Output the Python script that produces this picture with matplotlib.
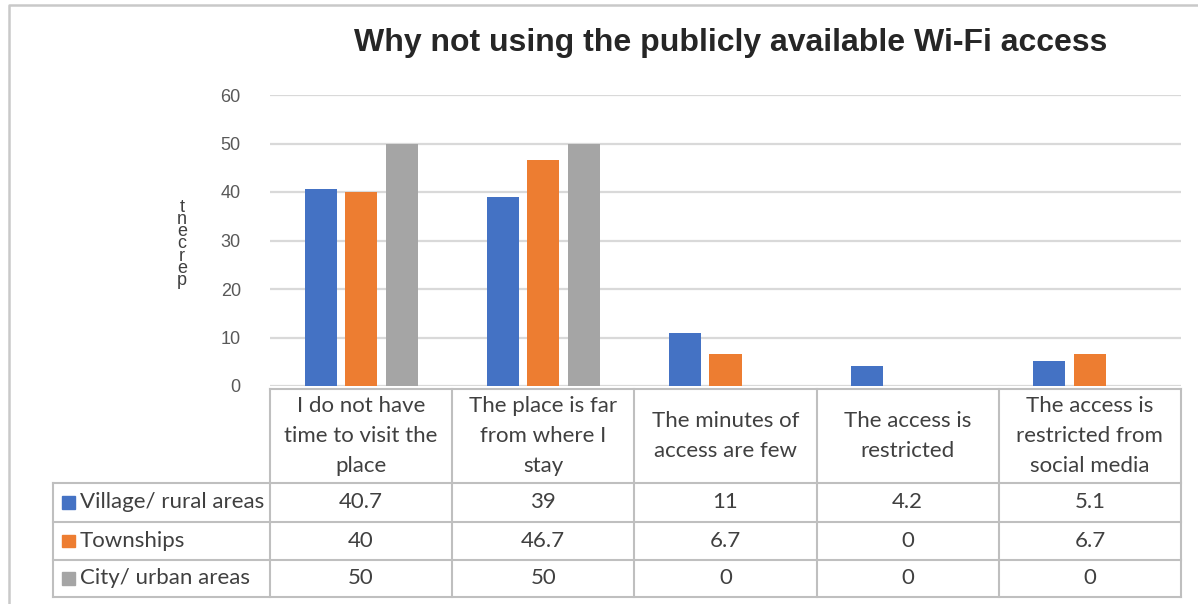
import matplotlib
matplotlib.use("Agg")
import matplotlib.pyplot as plt
import numpy as np

# ---- data ----
categories = [
    "I do not have\ntime to visit the\nplace",
    "The place is far\nfrom where I\nstay",
    "The minutes of\naccess are few",
    "The access is\nrestricted",
    "The access is\nrestricted from\nsocial media",
]
series_names = ["Village/ rural areas", "Townships", "City/ urban areas"]
village = [40.7, 39, 11, 4.2, 5.1]
townships = [40, 46.7, 6.7, 0, 6.7]
city = [50, 50, 0, 0, 0]
series_values = [village, townships, city]
value_labels = [["40.7", "39", "11", "4.2", "5.1"],
                ["40", "46.7", "6.7", "0", "6.7"],
                ["50", "50", "0", "0", "0"]]
yticks = [0, 10, 20, 30, 40, 50, 60]
title = "Why not using the publicly available Wi-Fi access"
ylabel = "percent"

colors = ["#4472C4", "#ED7D31", "#A5A5A5"]
grid_c = "#D9D9D9"
line_c = "#BFBFBF"
text_c = "#404040"

W, H = 1198, 604
fig = plt.figure(figsize=(W / 100, H / 100), dpi=100)

# overlay in pixel coordinates for frame, title and data table
ov = fig.add_axes([0, 0, 1, 1])
ov.set_xlim(0, W)
ov.set_ylim(H, 0)
ov.axis("off")

# plot area geometry (pixels)
px_left, px_right = 270, 1181
px_top, px_zero = 95, 386

ax = fig.add_axes([px_left / W, (H - px_zero) / H,
                   (px_right - px_left) / W, (px_zero - px_top) / H])
ax.set_facecolor("none")
n = len(categories)
x = np.arange(n)
bw = 0.176
step = 0.222
for i, (vals, c) in enumerate(zip(series_values, colors)):
    ax.bar(x + (i - 1) * step, vals, width=bw, color=c, zorder=3)
ax.set_xlim(-0.5, n - 0.5)
ax.set_ylim(0, 60)
ax.set_yticks(yticks)
ax.set_yticklabels([str(t) for t in yticks], fontsize=13, color="#595959",
                   family="Liberation Sans")
ax.tick_params(axis="y", length=0, pad=21)
ax.tick_params(axis="x", length=0, labelbottom=False)
ax.set_xticks([])
for s in ax.spines.values():
    s.set_visible(False)
ax.yaxis.grid(True, color=grid_c, linewidth=1.6, zorder=0)

# outer chart frame
ov.plot([9, 9, W + 5], [H + 5, 5, 5], color="#C9C9C9", lw=1.8, zorder=1)

# title
ov.text((px_left + px_right) / 2 + 5, 43, title, ha="center", va="center",
        fontsize=23, fontweight="bold", color="#262626",
        family="Liberation Sans")

# y label: letters stacked vertically in one text
ov.text(182, 244, "\n".join(reversed(ylabel)), ha="center", va="center",
        fontsize=13, color=text_c, family="Liberation Sans", linespacing=0.62)

# data table
tfont = "Lato"
tsize = 16
col_edges = np.linspace(px_left, px_right, n + 1)
row_edges = [389, 483, 522, 560, 597]
leg_left = 53
lw_t = 1.5
# horizontal lines
ov.plot([px_left, px_right], [row_edges[0]] * 2, color=line_c, lw=lw_t)
for y in row_edges[1:]:
    ov.plot([leg_left, px_right], [y, y], color=line_c, lw=lw_t)
# vertical lines
ov.plot([leg_left, leg_left], [row_edges[1], row_edges[-1]], color=line_c, lw=lw_t)
for xe in col_edges:
    ov.plot([xe, xe], [row_edges[0], row_edges[-1]], color=line_c, lw=lw_t)

# header cells
for j, cat in enumerate(categories):
    cx = (col_edges[j] + col_edges[j + 1]) / 2
    cy = (row_edges[0] + row_edges[1]) / 2
    ov.text(cx, cy, cat, ha="center", va="center", fontsize=tsize,
            color=text_c, family=tfont, linespacing=1.6)

# series rows
for i, name in enumerate(series_names):
    cy = (row_edges[i + 1] + row_edges[i + 2]) / 2
    ov.add_patch(plt.Rectangle((62, cy - 6.5), 13, 12.5, color=colors[i]))
    ov.text(80, cy, name, ha="left", va="center", fontsize=tsize,
            color=text_c, family=tfont)
    for j in range(n):
        cx = (col_edges[j] + col_edges[j + 1]) / 2
        ov.text(cx, cy, value_labels[i][j], ha="center", va="center",
                fontsize=tsize, color=text_c, family=tfont)

fig.savefig("out.png", dpi=100)
